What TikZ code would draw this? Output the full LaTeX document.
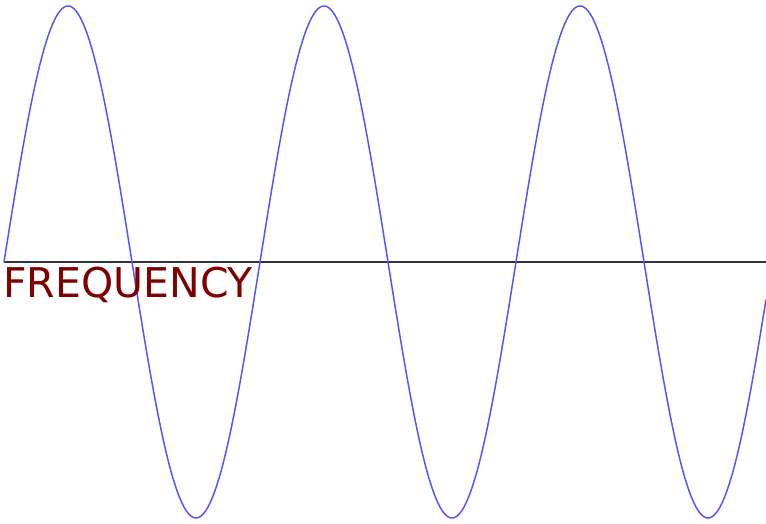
\documentclass[tikz,border=0pt]{standalone}
\usepackage{fontspec}
\setmainfont{DejaVu Sans}
\definecolor{wave}{RGB}{85,85,255}
\definecolor{label}{RGB}{128,0,0}
\tikzset{
  wavestyle/.style={draw=wave, line width=1.5pt},
  axisstyle/.style={draw=black!80, line width=1.4pt},
  labelstyle/.style={text=label, font=\fontsize{41}{41}\selectfont, inner sep=0pt, anchor=base west}
}
\begin{document}
\begin{tikzpicture}[x=1pt,y=-1pt]
\useasboundingbox (0,0) rectangle (766,524);
\coordinate (axL) at (4,262);
\coordinate (axR) at (766,262);
\draw[axisstyle] (axL) -- (axR);
\draw[wavestyle, domain=4:766, samples=500, smooth] plot (\x, {262 - 256*sin(1.40625*(\x-4))});
\node[labelstyle] (freq) at (3,297) {FREQUENCY};
\end{tikzpicture}
\end{document}
